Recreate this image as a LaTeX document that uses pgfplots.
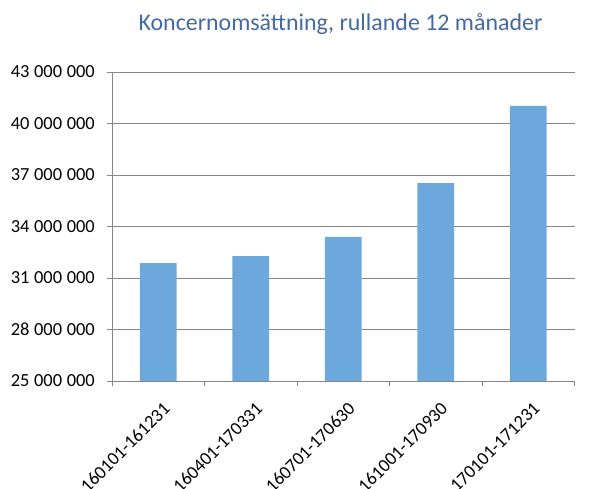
\documentclass[border=0pt]{standalone}
\usepackage{pgfplots}
\pgfplotsset{compat=1.18}
\usepackage{fontspec}
\setmainfont{Carlito}
\definecolor{barblue}{RGB}{109,168,220}
\definecolor{titleblue}{RGB}{68,106,158}
\definecolor{gridgray}{RGB}{134,134,134}
\newcommand{\tsp}{\hspace{0.25em}}
\begin{document}
\begin{tikzpicture}
\useasboundingbox (0,0) rectangle (595bp,489bp);
\begin{axis}[
  at={(112bp,108bp)}, anchor=south west,
  width=462.5bp, height=309bp, scale only axis,
  xmin=-0.5, xmax=4.5, ymin=25000000, ymax=43000000,
  scaled y ticks=false,
  axis lines*=left,
  axis line style={gridgray, line width=0.8pt},
  ytick={25000000,28000000,31000000,34000000,37000000,40000000,43000000},
  yticklabels={25\tsp000\tsp000,28\tsp000\tsp000,31\tsp000\tsp000,34\tsp000\tsp000,37\tsp000\tsp000,40\tsp000\tsp000,43\tsp000\tsp000},
  xtick={0,1,2,3,4},
  xticklabels={160101-161231,160401-170331,160701-170630,161001-170930,170101-171231},
  minor xtick={-0.5,0.5,1.5,2.5,3.5,4.5},
  major tick length=5bp, minor tick length=5bp,
  tick align=outside,
  tick style={gridgray, line width=0.8pt},
  xtick style={draw=none},
  minor x tick style={draw=gridgray, line width=0.8pt},
  ymajorgrids,
  grid style={gridgray, line width=0.8pt},
  ticklabel style={font=\fontsize{18.5}{22}\selectfont, text=black},
  xticklabel style={xshift=4bp, yshift=-15bp, rotate=45, anchor=north east, inner sep=0pt},
  yticklabel style={anchor=east, inner sep=0pt, xshift=-12bp},
]
\addplot[ybar, bar width=36.7bp, fill=barblue, draw=none] coordinates {
  (0,31860000) (1,32280000) (2,33390000) (3,36530000) (4,41030000)
};
\end{axis}
\node[text=titleblue, font=\fontsize{24}{28}\selectfont, anchor=base] at (340.5bp,458bp) {Koncernomsättning, rullande 12 månader};
\end{tikzpicture}
\end{document}
